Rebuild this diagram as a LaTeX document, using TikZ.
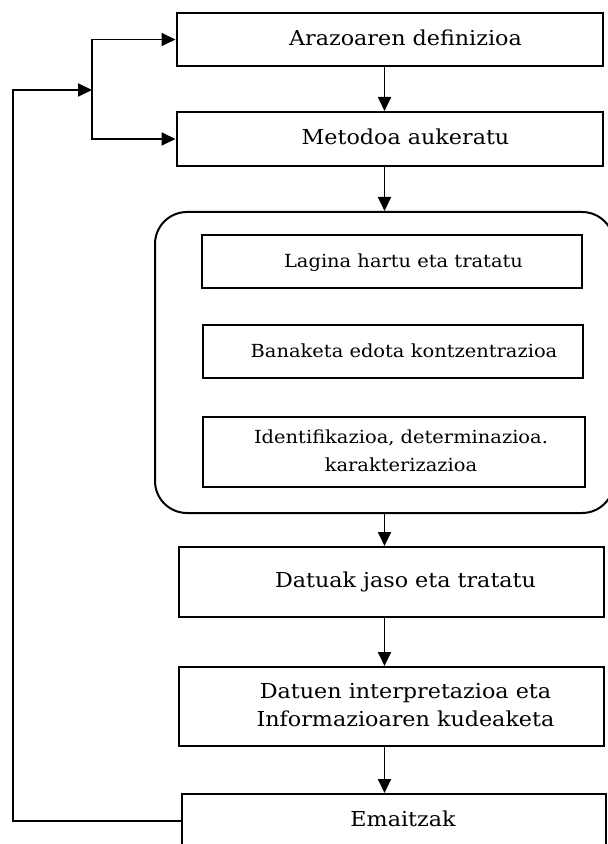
\documentclass[tikz,border=0pt]{standalone}
\usepackage{fontspec}
\setmainfont{DejaVu Serif}[FakeStretch=1.08]
\usetikzlibrary{arrows.meta}
\tikzset{
    kutxa/.style={draw, line width=1pt, minimum width=213pt, align=center, font=\fontsize{10.3}{14}\selectfont},
    barnekoa/.style={draw, line width=1pt, minimum width=190pt, minimum height=26.5pt, align=center, font=\fontsize{9}{14}\selectfont},
    gezia/.style={-{Triangle[length=7pt,width=6.5pt]}, line width=0.9pt},
}
\newcommand{\eskuin}[2]{\hspace*{#1}\begin{tabular}{@{}c@{}}#2\end{tabular}}
\begin{document}
\begin{tikzpicture}[x=0.5pt, y=-0.5pt]
    \useasboundingbox (0,0) rectangle (608,844);
    % urratsak
    \node [kutxa, minimum height=26.5pt] (arazo) at (389.5,39.5) {\eskuin{16pt}{Arazoaren definizioa}};
    \node [kutxa, minimum height=27pt] (metodo) at (389.5,139) {\eskuin{16pt}{Metodoa aukeratu}};
    \node [draw, line width=1pt, rounded corners=16pt, minimum width=229.5pt, minimum height=150.5pt] (blokea) at (384.5,362.5) {};
    \node [barnekoa] (lagina) at (392,261.5) {\eskuin{11.5pt}{Lagina hartu eta tratatu}};
    \node [barnekoa] (banaketa) at (393,351.5) {\eskuin{11pt}{Banaketa edota kontzentrazioa}};
    \node [barnekoa, minimum width=191pt, minimum height=35pt] (identif) at (394,452) {\eskuin{7pt}{Identifikazioa, determinazioa.\\karakterizazioa}};
    \node [kutxa, minimum width=212.5pt, minimum height=35pt] (datuak) at (391.5,582) {\eskuin{14pt}{Datuak jaso eta tratatu}};
    \node [kutxa, minimum width=212.5pt, minimum height=39.5pt] (interp) at (391.5,706.5) {\eskuin{14pt}{Datuen interpretazioa eta\\Informazioaren kudeaketa}};
    \node [kutxa, minimum width=212pt, minimum height=27pt] (emaitzak) at (394,821) {\eskuin{9pt}{Emaitzak}};
    % geziak
    \draw [gezia] (arazo.south -| blokea) -- (metodo.north -| blokea);
    \draw [gezia] (metodo.south -| blokea) -- (blokea.north);
    \draw [gezia] (blokea.south) -- (datuak.north -| blokea);
    \draw [gezia] (datuak.south -| blokea) -- (interp.north -| blokea);
    \draw [gezia] (interp.south -| blokea) -- (emaitzak.north -| blokea);
    % atzera begizta
    \coordinate (itzuli) at (13,90);
    \coordinate (adarra) at (92,90);
    \draw [gezia] (emaitzak.west) -| (itzuli) -- (adarra);
    \draw [gezia] (adarra) |- (arazo.west);
    \draw [gezia] (adarra) |- (metodo.west);
\end{tikzpicture}
\end{document}
